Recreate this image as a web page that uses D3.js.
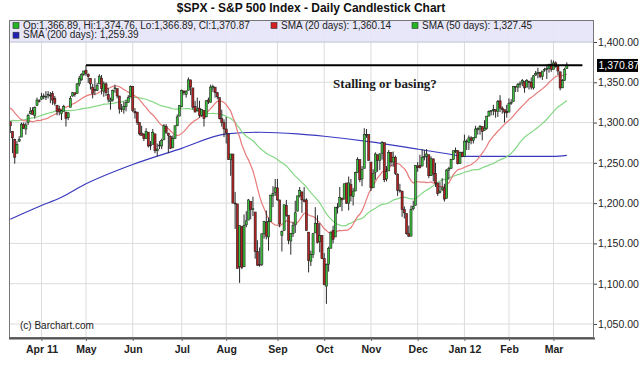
<!DOCTYPE html>
<meta charset="utf-8">
<style>
body { margin: 0; background: #fff; }
svg text { font-family: "Liberation Sans", Arial, sans-serif; }
</style>
<body>
<script src="https://cdnjs.cloudflare.com/ajax/libs/d3/7.8.5/d3.min.js"></script>
<script>
// ---- data ----
var dates = [
"2011-03-14","2011-03-15","2011-03-16","2011-03-17","2011-03-18","2011-03-21","2011-03-22","2011-03-23","2011-03-24","2011-03-25","2011-03-28","2011-03-29","2011-03-30","2011-03-31",
"2011-04-01","2011-04-04","2011-04-05","2011-04-06","2011-04-07","2011-04-08","2011-04-11","2011-04-12","2011-04-13","2011-04-14","2011-04-15","2011-04-18","2011-04-19","2011-04-20","2011-04-21","2011-04-25","2011-04-26","2011-04-27","2011-04-28","2011-04-29",
"2011-05-02","2011-05-03","2011-05-04","2011-05-05","2011-05-06","2011-05-09","2011-05-10","2011-05-11","2011-05-12","2011-05-13","2011-05-16","2011-05-17","2011-05-18","2011-05-19","2011-05-20","2011-05-23","2011-05-24","2011-05-25","2011-05-26","2011-05-27","2011-05-31",
"2011-06-01","2011-06-02","2011-06-03","2011-06-06","2011-06-07","2011-06-08","2011-06-09","2011-06-10","2011-06-13","2011-06-14","2011-06-15","2011-06-16","2011-06-17","2011-06-20","2011-06-21","2011-06-22","2011-06-23","2011-06-24","2011-06-27","2011-06-28","2011-06-29","2011-06-30",
"2011-07-01","2011-07-05","2011-07-06","2011-07-07","2011-07-08","2011-07-11","2011-07-12","2011-07-13","2011-07-14","2011-07-15","2011-07-18","2011-07-19","2011-07-20","2011-07-21","2011-07-22","2011-07-25","2011-07-26","2011-07-27","2011-07-28","2011-07-29",
"2011-08-01","2011-08-02","2011-08-03","2011-08-04","2011-08-05","2011-08-08","2011-08-09","2011-08-10","2011-08-11","2011-08-12","2011-08-15","2011-08-16","2011-08-17","2011-08-18","2011-08-19","2011-08-22","2011-08-23","2011-08-24","2011-08-25","2011-08-26","2011-08-29","2011-08-30","2011-08-31",
"2011-09-01","2011-09-02","2011-09-06","2011-09-07","2011-09-08","2011-09-09","2011-09-12","2011-09-13","2011-09-14","2011-09-15","2011-09-16","2011-09-19","2011-09-20","2011-09-21","2011-09-22","2011-09-23","2011-09-26","2011-09-27","2011-09-28","2011-09-29","2011-09-30",
"2011-10-03","2011-10-04","2011-10-05","2011-10-06","2011-10-07","2011-10-10","2011-10-11","2011-10-12","2011-10-13","2011-10-14","2011-10-17","2011-10-18","2011-10-19","2011-10-20","2011-10-21","2011-10-24","2011-10-25","2011-10-26","2011-10-27","2011-10-28","2011-10-31",
"2011-11-01","2011-11-02","2011-11-03","2011-11-04","2011-11-07","2011-11-08","2011-11-09","2011-11-10","2011-11-11","2011-11-14","2011-11-15","2011-11-16","2011-11-17","2011-11-18","2011-11-21","2011-11-22","2011-11-23","2011-11-25","2011-11-28","2011-11-29","2011-11-30",
"2011-12-01","2011-12-02","2011-12-05","2011-12-06","2011-12-07","2011-12-08","2011-12-09","2011-12-12","2011-12-13","2011-12-14","2011-12-15","2011-12-16","2011-12-19","2011-12-20","2011-12-21","2011-12-22","2011-12-23","2011-12-27","2011-12-28","2011-12-29","2011-12-30",
"2012-01-03","2012-01-04","2012-01-05","2012-01-06","2012-01-09","2012-01-10","2012-01-11","2012-01-12","2012-01-13","2012-01-17","2012-01-18","2012-01-19","2012-01-20","2012-01-23","2012-01-24","2012-01-25","2012-01-26","2012-01-27","2012-01-30","2012-01-31",
"2012-02-01","2012-02-02","2012-02-03","2012-02-06","2012-02-07","2012-02-08","2012-02-09","2012-02-10","2012-02-13","2012-02-14","2012-02-15","2012-02-16","2012-02-17","2012-02-21","2012-02-22","2012-02-23","2012-02-24","2012-02-27","2012-02-28","2012-02-29",
"2012-03-01","2012-03-02","2012-03-05","2012-03-06","2012-03-07","2012-03-08","2012-03-09"
];

var open = [
1301,1289,1279,1262,1277,1282,1298,1292,1300,1311,1315,1309,1321,1327,
1329,1332,1331.5,1335,1334,1336,1330,1321,1317,1311,1314,1313,1306,1319,1333,1337,1336,1348,1353,1360,
1365,1360,1355,1344,1341,1340,1348,1355,1339,1348,1335,1326,1328,1342,1342,1333,1317,1316,1320,1325,1332,
1345,1314,1313,1300,1287,1285,1280,1288,1272,1273,1286,1265,1271,1271,1279,1295,1287,1283,1269,1280,1296,1308,
1320,1339,1335,1340,1353,1343,1320,1315,1318,1309,1315,1307,1328,1325,1343,1344,1337,1331,1305,1300,
1292,1286,1254,1261,1200,1199,1121,1171,1121,1173,1179,1202,1192,1189,1140,1124,1124,1162,1176,1158,1177,1209,1213,
1219,1204,1160,1166,1197,1185,1153,1162,1173,1190,1209,1214,1204,1204,1164,1128,1136,1163,1175,1152,1160,
1131,1097,1124,1144,1166,1158,1194,1196,1206,1205,1225,1200,1223,1208,1215,1238,1254,1230,1243,1284,1285,
1251,1219,1238,1260,1253,1262,1275,1230,1240,1263,1251,1257,1236,1216,1215,1192,1187,1162,1159,1193,1197,
1246,1247,1246,1257,1258,1260,1234,1255,1237,1225,1213,1217,1219,1206,1241,1243,1254,1265,1265,1249,1263,
1258,1276,1275,1281,1278,1281,1291,1292,1295,1290,1293,1308,1314,1315,1316,1314,1327,1318,1316,1314,
1313,1324,1326,1345,1344,1347,1350,1351,1344,1351,1350,1343,1359,1361,1362,1357,1365,1366,1367,1372,
1366,1374,1370,1363,1343,1352,1366.89
];

var high = [
1301,1289,1280,1277,1283,1300,1300,1300,1311,1319,1319,1320,1331,1329,
1337,1336,1339,1339,1338,1339,1333,1322,1321,1316,1322,1313,1313,1333,1338,1337,1349,1358,1361,1364,
1371,1361,1355,1348,1355,1349,1360,1359,1351,1350,1343,1331,1341,1347,1342,1333,1323,1326,1328,1334,1346,
1345,1318,1313,1300,1296,1287,1293,1288,1277,1292,1286,1274,1277,1280,1298,1298,1287,1284,1284,1296,1310,1321,
1341,1340,1340,1356,1353,1343,1327,1331,1327,1317,1315,1328,1331,1347,1347,1344,1338,1331,1316,1304,
1307,1286,1261,1261,1214,1199,1172,1171,1186,1190,1205,1202,1208,1189,1154,1145,1162,1178,1191,1182,1210,1221,1230,
1230,1204,1166,1198,1204,1185,1163,1177,1203,1209,1220,1214,1220,1206,1164,1141,1163,1195,1185,1175,1160,
1138,1125,1146,1165,1172,1195,1200,1220,1207,1224,1225,1233,1230,1219,1239,1257,1254,1246,1293,1292,1285,
1251,1242,1263,1260,1262,1277,1275,1246,1266,1263,1264,1259,1237,1224,1215,1196,1187,1172,1197,1203,1247,
1251,1260,1267,1266,1267,1260,1258,1255,1250,1225,1226,1231,1224,1242,1245,1255,1265,1269,1266,1264,1264,
1285,1279,1284,1283,1282,1296,1294,1297,1295,1303,1308,1315,1315,1322,1316,1328,1334,1320,1316,1322,
1330,1329,1345,1345,1349,1351,1354,1351,1354,1352,1356,1359,1364,1368,1363,1364,1368,1372,1373,1378,
1377,1376,1370,1363,1354,1368,1374.76
];

var low = [
1287,1262,1249,1262,1276,1282,1292,1285,1297,1310,1310,1305,1321,1325,
1328,1329,1328,1330,1324,1322,1321,1309,1309,1303,1314,1295,1303,1319,1332,1332,1336,1345,1352,1358,
1358,1349,1341,1330,1334,1339,1348,1335,1332,1333,1325,1316,1326,1337,1330,1311,1313,1311,1314,1325,1332,
1313,1305,1297,1284,1284,1277,1280,1269,1266,1273,1262,1258,1267,1267,1278,1286,1262,1267,1268,1280,1296,1308,
1319,1334,1331,1340,1334,1316,1313,1314,1306,1307,1295,1307,1323,1325,1338,1331,1329,1304,1295,1282,
1274,1254,1234,1200,1168,1119,1101,1118,1121,1170,1179,1180,1184,1131,1122,1121,1122,1156,1155,1141,1177,1195,1209,
1203,1170,1140,1166,1183,1149,1136,1158,1163,1190,1207,1188,1201,1166,1114,1122,1132,1163,1150,1139,1131,
1098,1075,1115,1144,1150,1158,1187,1196,1190,1205,1199,1191,1202,1197,1215,1238,1226,1221,1243,1281,1253,
1215,1219,1229,1239,1241,1254,1226,1227,1240,1246,1245,1235,1209,1213,1183,1181,1161,1158,1159,1191,1197,
1239,1243,1246,1253,1244,1231,1234,1227,1220,1209,1212,1215,1202,1206,1229,1243,1254,1262,1248,1249,1257,
1258,1266,1266,1273,1274,1281,1285,1285,1278,1290,1291,1308,1309,1309,1306,1307,1313,1311,1300,1306,
1313,1322,1326,1338,1338,1343,1345,1337,1344,1341,1341,1341,1358,1355,1355,1353,1363,1354,1362,1363,
1366,1368,1359,1340,1343,1352,1366.89
];

var close = [
1296,1281,1257,1273,1279,1298,1293,1297,1309,1314,1310,1319,1328,1326,
1332,1333,1332.6,1335,1333,1328,1324,1314,1314,1315,1320,1305,1312,1330,1337,1335,1348,1355,1360,1364,
1361,1357,1348,1336,1340,1346,1357,1342,1348,1337,1329,1328,1340,1343,1333,1317,1316,1320,1325,1331,1345,
1315,1312,1300,1286,1284,1280,1289,1271,1271,1288,1265,1267,1272,1278,1296,1288,1284,1268,1280,1296,1307,1321,
1340,1337,1339,1353,1344,1319,1313,1317,1309,1316,1305,1327,1326,1344,1345,1337,1332,1305,1300,1292,
1287,1254,1261,1200,1199,1119,1172,1120,1172,1178,1204,1192,1193,1140,1123,1123,1162,1177,1159,1177,1210,1212,1219,
1204,1174,1165,1198,1185,1154,1162,1172,1188,1209,1216,1204,1202,1166,1129,1136,1162,1175,1151,1160,1131,
1099,1124,1144,1164,1155,1195,1195,1207,1204,1224,1200,1225,1209,1215,1238,1254,1229,1242,1285,1285,1253,
1219,1237,1261,1253,1261,1275,1229,1239,1263,1251,1257,1237,1216,1215,1192,1188,1162,1159,1192,1196,1247,
1244,1244,1257,1258,1261,1234,1255,1236,1225,1212,1215,1219,1205,1241,1243,1254,1265,1265.4,1249,1263,1258,
1277,1277,1281,1278,1281,1292,1292.5,1295,1289,1293,1308,1314,1315,1316,1314,1326,1318,1316,1313,1312,
1324,1325,1345,1344,1347,1349,1352,1343,1352,1350,1344,1358,1361,1362,1357,1364,1366,1367,1372,1366,
1374,1370,1364,1343,1352,1366,1370.87
];

// closes before the first visible day (Dec 31 2010 .. Mar 11 2011), only used for the 20/50 day averages
var priorCloses = [
1258,
1272,1270,1276,1273,1272,1269,1275,1286,1284,1293,
1295,1281,1280,1283,1291,1292,1296,1299,1276,1286,
1308,1304,1307,1311,1319,1324,1320,1321,1329,1332,1328,1336,1340,1343,1315,1307,1306,1320,1327,
1306,1308,1330,1321,1311,1322,1316,1295,1304
];

// 200 day average
var sma200Dates = ["2011-03-14","2011-04-01","2011-04-13","2011-05-02","2011-06-01","2011-07-01","2011-08-01","2011-08-22","2011-09-15","2011-10-03","2011-11-01","2011-12-01","2011-12-21","2012-01-03","2012-02-01","2012-03-01","2012-03-09"];
var sma200Values = [1180,1197,1206,1224,1248,1268,1286,1288,1286,1283,1276,1267,1261,1258,1258,1258,1259.39];

var smaLegendValues = [1360.14, 1327.45, 1259.39];

var monthKeys   = ["2011-04","2011-05","2011-06","2011-07","2011-08","2011-09","2011-10","2011-11","2011-12","2012-01","2012-02","2012-03"];
var monthLabels = ["Apr 11","May","Jun","Jul","Aug","Sep","Oct","Nov","Dec","Jan 12","Feb","Mar"];
var priceTicks  = [1050,1100,1150,1200,1250,1300,1350,1400];

if (open.length != dates.length || high.length != dates.length || low.length != dates.length || close.length != dates.length)
  throw new Error("length mismatch " + [dates.length, open.length, high.length, low.length, close.length]);

// ---- layout ----
var W = 640, H = 375;
var margin = {top: 20, right: 46, bottom: 37, left: 9},
    width = W - margin.left - margin.right,
    height = H - margin.top - margin.bottom;

var x = d3.scaleLinear().domain([-0.58, 262.2]).range([0, width]);
var y = d3.scaleLinear().domain([1032.6, 1427.3]).range([height, 0]);
var step = x(1) - x(0);

var svg = d3.select("body").append("svg")
    .attr("width", W)
    .attr("height", H);

svg.append("text")
    .attr("x", 311).attr("y", 12)
    .attr("text-anchor", "middle")
    .style("font-size", "12px").style("font-weight", "bold")
    .style("fill", "#111")
    .text("$SPX - S&P 500 Index - Daily Candlestick Chart");

var g = svg.append("g")
    .attr("transform", "translate(" + margin.left + "," + margin.top + ")");

var idx = {};
dates.forEach(function(d, i) { idx[d] = i; });

var rows = dates.map(function(d, i) {
  return {i: i, date: d, o: open[i], h: high[i], l: low[i], c: close[i]};
});

// moving averages
var allCloses = priorCloses.concat(close);
function sma(n) {
  return rows.map(function(r) {
    var end = r.i + priorCloses.length;
    return {i: r.i, v: d3.mean(allCloses.slice(end - n + 1, end + 1))};
  });
}
var sma20 = sma(20), sma50 = sma(50);
var sma200 = sma200Dates.map(function(d, k) { return {i: idx[d], v: sma200Values[k]}; });

var monthIdx = monthKeys.map(function(m) {
  return dates.findIndex(function(d) { return d.slice(0, 7) == m; });
});

// grid
g.append("g").selectAll("line")
    .data(monthIdx)
  .enter().append("line")
    .attr("x1", function(d) { return x(d); })
    .attr("x2", function(d) { return x(d); })
    .attr("y1", 0).attr("y2", height)
    .style("stroke", "#dcdcdc").style("stroke-width", 1);

g.append("g").selectAll("line")
    .data(priceTicks)
  .enter().append("line")
    .attr("x1", 0).attr("x2", width)
    .attr("y1", function(d) { return y(d); })
    .attr("y2", function(d) { return y(d); })
    .style("stroke", "#dcdcdc").style("stroke-width", 1);

// averages
var line = d3.line()
    .x(function(d) { return x(d.i); })
    .y(function(d) { return y(d.v); });

g.append("path").datum(sma200)
    .attr("d", line.curve(d3.curveMonotoneX))
    .style("fill", "none").style("stroke", "#3a3abf").style("stroke-width", 1.2);
line.curve(d3.curveLinear);
g.append("path").datum(sma50)
    .attr("d", line)
    .style("fill", "none").style("stroke", "#84d884").style("stroke-width", 1.2);
g.append("path").datum(sma20)
    .attr("d", line)
    .style("fill", "none").style("stroke", "#e87a7a").style("stroke-width", 1.2);

// candles
var candle = g.append("g").selectAll("g")
    .data(rows)
  .enter().append("g");

candle.append("line")
    .attr("x1", function(d) { return x(d.i); })
    .attr("x2", function(d) { return x(d.i); })
    .attr("y1", function(d) { return y(d.h); })
    .attr("y2", function(d) { return y(d.l); })
    .style("stroke", "#2a2a2a").style("stroke-width", 1);

var bodyW = step * 0.95;
candle.append("rect")
    .attr("x", function(d) { return x(d.i) - bodyW / 2; })
    .attr("width", bodyW)
    .attr("y", function(d) { return y(Math.max(d.o, d.c)); })
    .attr("height", function(d) { return Math.max(0.8, Math.abs(y(d.o) - y(d.c))); })
    .style("fill", function(d) { return d.c >= d.o ? "#3cbf3c" : "#b42222"; })
    .style("stroke", "#1c1c1c").style("stroke-width", 0.55);

// resistance line from the May high
var resStart = idx["2011-05-02"];
var resLevel = high[resStart];
g.append("line")
    .attr("x1", x(resStart)).attr("x2", x(dates.length - 1 + 7))
    .attr("y1", y(resLevel)).attr("y2", y(resLevel))
    .style("stroke", "#000").style("stroke-width", 2);

g.append("text")
    .attr("x", x(idx["2011-10-07"])).attr("y", y(1343))
    .style("font-family", "'Liberation Serif', 'Times New Roman', serif")
    .style("font-size", "13px").style("font-weight", "bold")
    .style("fill", "#1a1a1a")
    .text("Stalling or basing?");

g.append("text")
    .attr("x", 11).attr("y", height - 9)
    .style("font-size", "10px").style("fill", "#222")
    .text("(c) Barchart.com");

// legend band
g.append("rect")
    .attr("x", 0).attr("y", 0)
    .attr("width", width).attr("height", 22)
    .style("fill", "#e4e4f8").style("opacity", 0.9);
g.append("line")
    .attr("x1", 0).attr("x2", width).attr("y1", 22).attr("y2", 22)
    .style("stroke", "#c8c8dc");

var last = rows[rows.length - 1];
var f2 = d3.format(",.2f");
var legend = [
  {x: 4,   row: 0, color: "#22b422", text: "Op:" + f2(last.o) + ", Hi:" + f2(last.h) + ", Lo:" + f2(last.l) + ", Cl:" + f2(last.c)},
  {x: 262, row: 0, color: "#d42020", text: "SMA (20 days): " + f2(smaLegendValues[0])},
  {x: 403, row: 0, color: "#22b422", text: "SMA (50 days): " + f2(smaLegendValues[1])},
  {x: 4,   row: 1, color: "#2020b4", text: "SMA (200 days): " + f2(smaLegendValues[2])}
];
var li = g.append("g").selectAll("g")
    .data(legend)
  .enter().append("g")
    .attr("transform", function(d) { return "translate(" + d.x + "," + (d.row * 9.7) + ")"; });
li.append("rect")
    .attr("x", 0).attr("y", 2.5).attr("width", 6).attr("height", 6)
    .style("fill", function(d) { return d.color; })
    .style("stroke", "#333").style("stroke-width", 0.6);
li.append("text")
    .attr("x", 10).attr("y", 8.7)
    .style("font-size", "10px").style("fill", "#222")
    .text(function(d) { return d.text; });

// frame
g.append("rect")
    .attr("x", 0.5).attr("y", 0.5)
    .attr("width", width - 1).attr("height", height - 1)
    .style("fill", "none").style("stroke", "#777");
g.append("line")
    .attr("x1", 0).attr("x2", width + 1).attr("y1", height + 0.5).attr("y2", height + 0.5)
    .style("stroke", "#555").style("stroke-width", 2);

// axes
var xAxis = g.append("g")
    .attr("transform", "translate(0," + height + ")")
    .call(d3.axisBottom(x).tickValues(monthIdx).tickSize(3).tickPadding(5)
      .tickFormat(function(d, k) { return monthLabels[k]; }));
xAxis.select(".domain").remove();
xAxis.selectAll("text").style("font-size", "10.5px").style("font-weight", "bold").style("fill", "#222");
xAxis.selectAll("line").style("stroke", "#666");

var yAxis = g.append("g")
    .attr("transform", "translate(" + width + ",0)")
    .call(d3.axisRight(y).tickValues(priceTicks).tickSize(3).tickPadding(1)
      .tickFormat(f2));
yAxis.select(".domain").remove();
yAxis.selectAll("text").style("font-size", "10.5px").style("fill", "#222");
yAxis.selectAll("line").style("stroke", "#444");

// last price tag
var tag = g.append("g")
    .attr("transform", "translate(" + (width + 3) + "," + y(last.c) + ")");
tag.append("rect")
    .attr("x", 0).attr("y", -6.5).attr("width", 41).attr("height", 13)
    .style("fill", "#000");
tag.append("text")
    .attr("x", 1.5).attr("y", 4)
    .style("font-size", "10.5px").style("fill", "#fff")
    .text(f2(last.c));
</script>
</body>
